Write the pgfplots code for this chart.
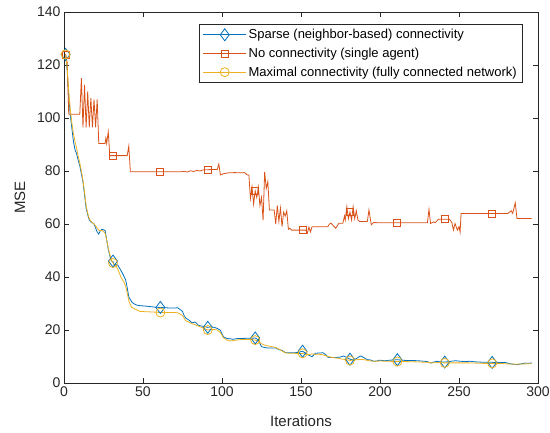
\documentclass[border=0pt]{standalone}
\usepackage{fontspec}
\setmainfont{Liberation Sans}
\usepackage{pgfplots}
\usepackage{pgfplotstable}
\pgfplotsset{compat=1.18}
\definecolor{mblue}{rgb}{0,0.447,0.741}
\definecolor{mred}{rgb}{0.850,0.325,0.098}
\definecolor{myellow}{rgb}{0.929,0.694,0.125}
\definecolor{axgray}{rgb}{0.15,0.15,0.15}

% sparse (neighbor-based) connectivity
\pgfplotstableread{
x y
1 124
2 118
3 108
4 101
5 96
6 91
7 88
8 86.5
9 84
10 82
11 79
12 76
13 71
14 66
15 63.5
16 61.5
17 60.8
18 60.5
19 60
20 58.5
21 57
22 56.2
23 57.5
24 58
25 57.8
26 57.6
27 54
28 50.5
29 48
30 46
31 45.8
32 44.2
33 44.8
34 44.5
35 43.5
36 42.5
37 41.4
38 40.2
39 38.9
40 36
41 32.5
42 31.5
43 30.5
44 30
46 29.4
48 29.2
50 29.1
52 29
55 28.8
58 28.6
61 28.5
64 28.4
67 28.3
70 28.3
72 28.4
74 27.5
75 27
76 25.5
77 24.5
79 23.8
81 22.7
83 23
85 21.8
87 21.5
89 21.3
91 21
93 21.2
95 21
97 20.6
99 19.9
100 18.5
101 17.4
103 16.8
105 16.7
107 16.5
110 16.8
113 16.8
116 16.9
119 16.9
121 17
123 16.3
124 15
125 13.7
127 13.4
129 13.2
131 13.2
134 13.2
136 12.6
138 12.3
140 11.5
142 11.4
145 11.4
148 11.5
151 12
153 11.2
155 10.5
157 9.9
159 11.2
161 11.3
164 11.4
166 10.5
167 9.7
170 9.6
172 9.6
175 9.8
177 10.2
179 9.6
181 9
183 8.7
185 9.2
187 10
188 10.2
190 9.5
192 8.8
194 8.7
196 8.2
198 8.3
200 8.6
203 8.4
206 8.6
209 8.7
211 8.8
214 8.6
217 8.5
220 8.5
224 8.4
228 8.2
230 8.1
232 7.5
234 7.9
236 8.2
238 8.0
241 7.9
244 8.1
246 8.3
248 8.4
251 8.2
254 8.1
257 8.2
260 8.0
263 7.9
266 7.8
269 7.8
271 7.8
274 7.7
277 7.7
279 7.8
282 7.3
284 7.1
287 6.9
289 7.2
292 7.5
294 7.4
296 7.6
}\sparse

% no connectivity (single agent)
\pgfplotstableread{
x y
1 124
2 121
3 101.4
10 101.4
11 115
12 96.5
13 112.5
14 96.5
15 110
16 96.5
17 107.5
18 96.5
19 107
20 96.5
21 107
22 90.4
26 90.4
26.5 92.4
27 90.4
28 94.8
29 85.8
40 85.8
41 89.4
42 79.7
74 79.7
76 79.9
78 79.6
80 80.1
82 79.8
84 80.2
86 80
88 80.4
91 80.5
97 80.6
98 82.6
99 78.5
101 79
104 79.3
108 79.4
112 79.3
114 79.4
115 79.1
116 78.5
117 78.5
118 69.7
119 74
120 67.5
121 72.5
122 70
123 74
124 67
125 70
126 61.5
127 79.7
128 73.4
129 76
130 65.3
133 65.3
134 60
135 67
136 61
137 66
138 59
139 64.5
140 63
141 65
142 58
143 58.4
144 57.7
153 57.7
154 56.5
155 58.8
156 57
157 59
167 59
168 60
169 60.3
171 59
172 58.4
174 60.3
176.5 60.3
177.5 63
178 61.5
179 66.5
180 62
181 64.5
182 61.5
183 66.5
184 62
185 65
186 61.5
187 61
189 60.9
192 61
193 65.3
194.5 59.7
196 60.6
198 60.5
230 60.5
231 65.5
232 60.2
234 60.8
235 60.5
237 61.8
244 61.8
245.5 60.5
246.5 57.7
247.5 60.2
249 57.7
250 59
250.7 56.9
251.3 64
281 64
283 65
284 64
285.6 68
286.7 62.1
296 62.1
}\single

% maximal connectivity (fully connected network)
\pgfplotstableread{
x y
1 124
2 119
3 110
4 103
5 98
6 94
7 91
8 88.5
9 85.5
10 83
11 80
12 76.5
13 72
14 67
15 64
16 62
17 61
18 60.5
19 60
20 59.3
21 58.5
22 57.7
23 57.5
24 57.5
25 57.2
26 56.5
27 54
28 51
29 48.5
30 46.5
31 45.3
32 44.5
33 44
34 43
35 41.5
36 40
37 39
38 38
39 36.5
40 34
41 31
42 29.5
43 28.5
44 28.2
46 27.6
48 27
52 26.9
56 26.8
61 26.6
66 26.6
70 26.6
72 26.5
74 25.8
75 25.5
76 24.5
77 23.5
79 23
81 22.4
83 22
85 21.5
87 21
89 20.5
91 20
93 20.2
95 20.2
97 20
99 19
100 18
101 17
103 16.2
105 15.9
107 16.0
110 16.3
113 16.4
116 16.4
119 16.4
121 16.2
123 15.8
125 14.8
127 14.3
129 14
131 13.8
134 13.4
136 12.8
138 12.1
140 11.4
143 11.2
146 11.2
149 11.1
151 11.2
153 10.8
155 10.7
157 11
159 10.8
161 10.9
164 10.6
167 10
170 9.6
173 9.4
176 9.0
179 8.8
181 8.5
184 8.7
187 8.9
190 8.8
193 8.4
196 8.2
200 8.3
205 8.2
211 8.1
216 8.1
221 8.0
226 7.9
230 7.8
233 7.6
236 7.7
241 7.6
246 7.6
251 7.6
256 7.6
261 7.5
266 7.4
271 7.4
276 7.4
281 7.2
286 7.1
291 7.2
296 7.3
}\full

\begin{document}
\begin{tikzpicture}
\begin{axis}[name=ax, scale only axis, width=474pt, height=371pt,
    xmin=0, xmax=300, ymin=0, ymax=140,
    xtick={0,50,...,300}, ytick={0,20,...,140},
    tick align=inside, major tick length=5pt,
    axis line style={axgray, line width=0.6pt},
    every tick/.style={axgray, line width=0.6pt},
    tick label style={font=\fontsize{14}{16}\selectfont, text=axgray},
    /pgf/number format/assume math mode=true,
    xlabel=Iterations, ylabel=MSE,
    label style={font=\fontsize{15}{17}\selectfont, text=axgray},
    xlabel style={at={(axis description cs:0.5,-0.103)}, anchor=center},
    ylabel style={at={(axis description cs:-0.093,0.5)}, anchor=center},
    legend cell align=left,
    legend style={at={(1,1)}, anchor=north east, xshift=-15pt, yshift=-12pt,
        draw=axgray, line width=0.6pt, font=\fontsize{13}{15}\selectfont,
        inner xsep=4pt, inner ysep=3pt, row sep=3.8pt},
    legend image code/.code={
        \draw[mark repeat=2, mark phase=2, #1]
            plot coordinates {(0pt,0pt) (21.5pt,0pt) (43pt,0pt)};},
    every axis plot/.append style={line width=0.8pt},
]
\addplot[mblue, forget plot] table {\sparse};
\addplot[mred, forget plot] table {\single};
\addplot[myellow, forget plot] table {\full};

% markers every 30 iterations
\addplot[mblue, only marks, mark=diamond, mark size=6pt, forget plot]
    coordinates {(1,124) (31,46) (61,28.5) (91,21) (121,17) (151,12) (181,9) (211,8.8) (241,7.9) (271,7.8)};
\addplot[mred, only marks, mark=square, mark size=3.5pt, forget plot]
    coordinates {(1,124) (31,85.8) (61,79.7) (91,80.5) (121,72.5) (151,57.7) (181,64.5) (211,60.5) (241,61.8) (271,64)};
\addplot[myellow, only marks, mark=o, mark size=4.5pt, forget plot]
    coordinates {(1,124) (31,45.3) (61,26.6) (91,20) (121,16.2) (151,11.2) (181,8.5) (211,8.1) (241,7.6) (271,7.4)};

\addlegendimage{mblue, line width=0.8pt, mark=diamond, mark size=6pt}
\addlegendimage{mred, line width=0.8pt, mark=square, mark size=3.5pt}
\addlegendimage{myellow, line width=0.8pt, mark=o, mark size=4.5pt}
\legend{Sparse (neighbor-based) connectivity, No connectivity (single agent), Maximal connectivity (fully connected network)}
\end{axis}
\pgfresetboundingbox
\path[use as bounding box] ([shift={(-64pt,-49pt)}]ax.south west) rectangle ([shift={(12pt,12pt)}]ax.north east);
\end{tikzpicture}
\end{document}
